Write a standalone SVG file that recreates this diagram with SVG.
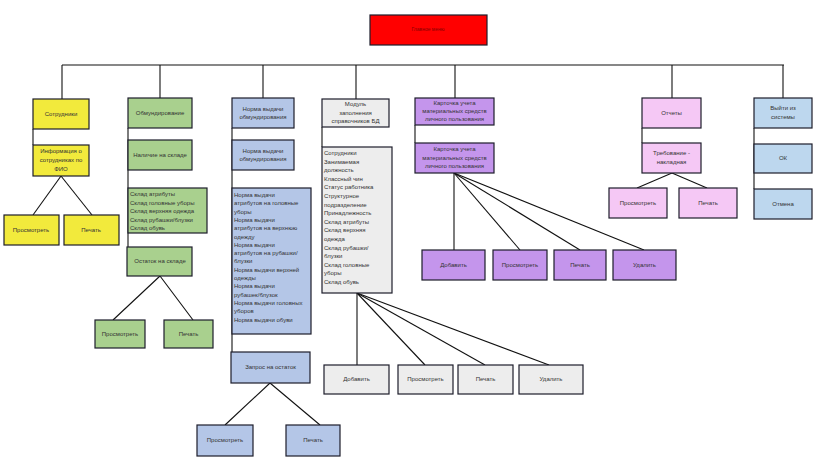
<svg xmlns="http://www.w3.org/2000/svg" width="821" height="471" viewBox="0 0 821 471">
<style>
rect{stroke:#1d1d2b;stroke-width:1.2}
text{font-family:"Liberation Sans",Arial,sans-serif;font-size:6px;fill:#333}
.c{text-anchor:middle;dominant-baseline:middle}
.l{text-anchor:start}
.y{fill:#F2EA3C}.g{fill:#A9D08E}.b{fill:#B4C6E7}.gr{fill:#EDEDED}.p{fill:#C495EC}.pk{fill:#F5C8F5}.lb{fill:#BDD7EE}
#conn line,#conn polyline{stroke:#111;stroke-width:1.1;fill:none}
</style>
<rect width="821" height="471" fill="#fff" style="stroke:none"/>
<g id="conn">
<line x1="62" y1="65" x2="784" y2="65"/>
<line x1="62" y1="65" x2="62" y2="99"/>
<line x1="160" y1="65" x2="160" y2="98"/>
<line x1="263" y1="65" x2="263" y2="98"/>
<line x1="356" y1="65" x2="356" y2="99"/>
<line x1="455" y1="65" x2="455" y2="98"/>
<line x1="672" y1="65" x2="672" y2="98"/>
<line x1="783" y1="65" x2="783" y2="98"/>
<line x1="33" y1="129" x2="33" y2="145"/>
<line x1="128" y1="128" x2="128" y2="247"/>
<line x1="232" y1="128" x2="232" y2="352"/>
<line x1="322" y1="127" x2="322" y2="147"/>
<line x1="415" y1="125" x2="415" y2="143"/>
<line x1="642" y1="128" x2="642" y2="143"/>
<line x1="754" y1="128" x2="754" y2="189"/>
<line x1="61" y1="176" x2="33" y2="215"/>
<line x1="61" y1="176" x2="92" y2="215"/>
<line x1="160" y1="276" x2="113" y2="320"/>
<line x1="160" y1="276" x2="193" y2="320"/>
<line x1="270" y1="383" x2="225" y2="425"/>
<line x1="270" y1="383" x2="320" y2="425"/>
<line x1="357" y1="293" x2="357" y2="365"/>
<line x1="357" y1="293" x2="425" y2="365"/>
<line x1="357" y1="293" x2="485" y2="365"/>
<line x1="357" y1="293" x2="549" y2="365"/>
<line x1="454" y1="173" x2="454" y2="250"/>
<line x1="454" y1="173" x2="520" y2="250"/>
<line x1="454" y1="173" x2="580" y2="250"/>
<line x1="454" y1="173" x2="644" y2="250"/>
<line x1="672" y1="173" x2="637" y2="188"/>
<line x1="672" y1="173" x2="707" y2="188"/>
</g>
<g id="main"><rect x="370" y="15" width="117" height="30" fill="#FF0000"/><text class="c" x="428" y="30" style="fill:#8B0000;font-size:5px">Главное меню</text></g>

<g id="y1"><rect class="y" x="33" y="99" width="56" height="30"/><text class="c" x="61" y="114">Сотрудники</text></g>
<g id="y2"><rect class="y" x="33" y="145" width="56" height="31"/><text class="c" x="61" y="151">Информация о</text><text class="c" x="61" y="160">сотрудниках по</text><text class="c" x="61" y="169">ФИО</text></g>
<g id="y3"><rect class="y" x="4" y="215" width="55" height="30"/><text class="c" x="31" y="230">Просмотреть</text></g>
<g id="y4"><rect class="y" x="64" y="215" width="55" height="30"/><text class="c" x="91" y="230">Печать</text></g>

<g id="g1"><rect class="g" x="128" y="98" width="64" height="30"/><text class="c" x="160" y="113">Обмундирование</text></g>
<g id="g2"><rect class="g" x="128" y="140" width="64" height="30"/><text class="c" x="160" y="155">Наличие на складе</text></g>
<g id="g3"><rect class="g" x="128" y="188" width="79" height="45"/>
<text x="130" y="196">Склад атрибуты</text><text x="130" y="204.5">Склад головные уборы</text><text x="130" y="213">Склад верхняя одежда</text><text x="130" y="221.5">Склад рубашки/блузки</text><text x="130" y="230">Склад обувь</text></g>
<g id="g4"><rect class="g" x="127" y="247" width="65" height="29"/><text class="c" x="160" y="261.5">Остаток на складе</text></g>
<g id="g5"><rect class="g" x="95" y="320" width="50" height="28"/><text class="c" x="120" y="334">Просмотреть</text></g>
<g id="g6"><rect class="g" x="164" y="320" width="49" height="28"/><text class="c" x="188.5" y="334">Печать</text></g>

<g id="b1"><rect class="b" x="232" y="98" width="62" height="30"/><text class="c" x="263" y="109">Норма выдачи</text><text class="c" x="263" y="117.5">обмундирования</text></g>
<g id="b2"><rect class="b" x="232" y="140" width="62" height="30"/><text class="c" x="263" y="151">Норма выдачи</text><text class="c" x="263" y="159.5">обмундирования</text></g>
<g id="b3"><rect class="b" x="232" y="188" width="79" height="146"/>
<text x="234" y="197">Норма выдачи</text><text x="234" y="205.3">атрибутов на головные</text><text x="234" y="213.6">уборы</text><text x="234" y="221.9">Норма выдачи</text><text x="234" y="230.2">атрибутов на верхнюю</text><text x="234" y="238.5">одежду</text><text x="234" y="246.8">Норма выдачи</text><text x="234" y="255.1">атрибутов на рубашки/</text><text x="234" y="263.4">блузки</text><text x="234" y="271.7">Норма выдачи верхней</text><text x="234" y="280">одежды</text><text x="234" y="288.3">Норма выдачи</text><text x="234" y="296.6">рубашек/блузок</text><text x="234" y="304.9">Норма выдачи головных</text><text x="234" y="313.2">уборов</text><text x="234" y="321.5">Норма выдачи обуви</text></g>
<g id="b4"><rect class="b" x="231" y="352" width="79" height="31"/><text class="c" x="270.5" y="367.5">Запрос на остаток</text></g>
<g id="b5"><rect class="b" x="197" y="425" width="56" height="31"/><text class="c" x="225" y="440.5">Просмотреть</text></g>
<g id="b6"><rect class="b" x="286" y="425" width="54" height="31"/><text class="c" x="313" y="440.5">Печать</text></g>

<g id="d1"><rect class="gr" x="322" y="99" width="67" height="28"/><text class="c" x="355.5" y="104">Модуль</text><text class="c" x="355.5" y="113">заполнения</text><text class="c" x="355.5" y="121.5">справочников БД</text></g>
<g id="d2"><rect class="gr" x="322" y="147" width="70" height="146"/>
<text x="324" y="155">Сотрудники</text><text x="324" y="163.6">Занимаемая</text><text x="324" y="172.2">должность</text><text x="324" y="180.8">Классный чин</text><text x="324" y="189.4">Статус работника</text><text x="324" y="198">Структурное</text><text x="324" y="206.6">подразделение</text><text x="324" y="215.2">Принадлежность</text><text x="324" y="223.8">Склад атрибуты</text><text x="324" y="232.4">Склад верхняя</text><text x="324" y="241">одежда</text><text x="324" y="249.6">Склад рубашки/</text><text x="324" y="258.2">блузки</text><text x="324" y="266.8">Склад головные</text><text x="324" y="275.4">уборы</text><text x="324" y="284">Склад обувь</text></g>
<g id="d3"><rect class="gr" x="324" y="365" width="65" height="29"/><text class="c" x="356.5" y="379.5">Добавить</text></g>
<g id="d4"><rect class="gr" x="398" y="365" width="55" height="29"/><text class="c" x="425.5" y="379.5">Просмотреть</text></g>
<g id="d5"><rect class="gr" x="458" y="365" width="55" height="29"/><text class="c" x="485.5" y="379.5">Печать</text></g>
<g id="d6"><rect class="gr" x="519" y="365" width="64" height="29"/><text class="c" x="551" y="379.5">Удалить</text></g>

<g id="p1"><rect class="p" x="415" y="98" width="79" height="27"/><text class="c" x="454.5" y="103.5">Карточка учета</text><text class="c" x="454.5" y="111.5">материальных средств</text><text class="c" x="454.5" y="119.5">личного пользования</text></g>
<g id="p2"><rect class="p" x="415" y="143" width="79" height="30"/><text class="c" x="454.5" y="149.5">Карточка учета</text><text class="c" x="454.5" y="158">материальных средств</text><text class="c" x="454.5" y="166.5">личного пользования</text></g>
<g id="p3"><rect class="p" x="422" y="250" width="63" height="30"/><text class="c" x="453.5" y="265">Добавить</text></g>
<g id="p4"><rect class="p" x="493" y="250" width="54" height="30"/><text class="c" x="520" y="265">Просмотреть</text></g>
<g id="p5"><rect class="p" x="554" y="250" width="52" height="30"/><text class="c" x="580" y="265">Печать</text></g>
<g id="p6"><rect class="p" x="613" y="250" width="63" height="30"/><text class="c" x="644.5" y="265">Удалить</text></g>

<g id="k1"><rect class="pk" x="642" y="98" width="59" height="30"/><text class="c" x="671.5" y="113">Отчеты</text></g>
<g id="k2"><rect class="pk" x="642" y="143" width="59" height="30"/><text class="c" x="671.5" y="153.5">Требование -</text><text class="c" x="671.5" y="162.5">накладная</text></g>
<g id="k3"><rect class="pk" x="609" y="188" width="58" height="30"/><text class="c" x="638" y="203">Просмотреть</text></g>
<g id="k4"><rect class="pk" x="679" y="188" width="58" height="30"/><text class="c" x="708" y="203">Печать</text></g>

<g id="e1"><rect class="lb" x="754" y="98" width="58" height="30"/><text class="c" x="783" y="108">Выйти из</text><text class="c" x="783" y="117">системы</text></g>
<g id="e2"><rect class="lb" x="754" y="144" width="58" height="29"/><text class="c" x="783" y="158.5">ОК</text></g>
<g id="e3"><rect class="lb" x="754" y="189" width="58" height="30"/><text class="c" x="783" y="204">Отмена</text></g>
</svg>
